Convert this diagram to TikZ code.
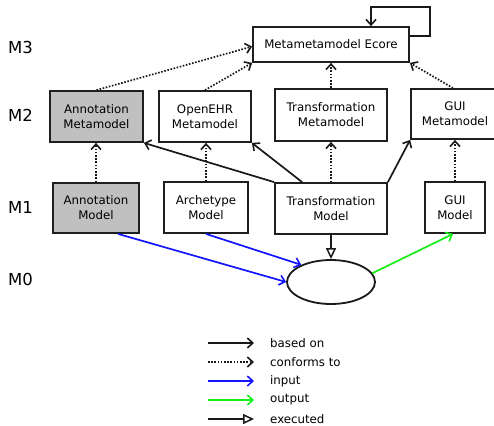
\documentclass[tikz,border=0pt]{standalone}
\usepackage{fontspec}
\setmainfont{DejaVu Sans}
\usetikzlibrary{arrows.meta,shapes.geometric}

\definecolor{boxgray}{RGB}{192,192,192}
\definecolor{inblue}{RGB}{20,20,255}
\definecolor{outgreen}{RGB}{20,240,20}

\tikzset{
  model/.style={draw=black!88, line width=1.8pt, fill=white, inner sep=0pt,
    align=center, font=\fontsize{11.8}{15}\selectfont},
  greymodel/.style={model, fill=boxgray},
  level/.style={font=\fontsize{16.5}{18}\selectfont, anchor=west, inner sep=0pt},
  legtext/.style={font=\fontsize{11.8}{14}\selectfont, anchor=west, inner sep=0pt},
  barb/.style={-{Straight Barb[length=5.5pt,width=10pt,line width=1.6pt]}},
  basedon/.style={barb, line width=1.7pt, black!90},
  conforms/.style={barb, line width=1.7pt, black!90, dash pattern=on 1.6pt off 1.6pt},
  inputarr/.style={barb, line width=1.7pt, inblue},
  outputarr/.style={barb, line width=1.7pt, outgreen},
  executedarr/.style={-{Triangle[open,length=11pt,width=10pt,line width=1.5pt]}, line width=1.7pt, black!90},
}

\begin{document}
\begin{tikzpicture}[x=1pt,y=-1pt]
  \useasboundingbox (0,0) rectangle (494,425);

  % level labels
  \node[level] (m3) at (8,47) {M3};
  \node[level] (m2) at (8,115) {M2};
  \node[level] (m1) at (8,207) {M1};
  \node[level] (m0) at (8,279) {M0};

  % M3
  \node[model, minimum width=156pt, minimum height=35pt] (ecore) at (331,44.5) {Metametamodel Ecore};

  % M2
  \node[greymodel, minimum width=93pt, minimum height=51pt] (annmm) at (96.5,116.5) {Annotation\\Metamodel};
  \node[model, minimum width=92pt, minimum height=51pt] (ehrmm) at (205,116.5) {OpenEHR\\Metamodel};
  \node[model, minimum width=112pt, minimum height=52pt] (trmm) at (331,115) {Transformation\\Metamodel};
  \node[model, minimum width=88pt, minimum height=50pt] (guimm) at (455,114) {GUI\\Metamodel};

  % M1
  \node[greymodel, minimum width=86pt, minimum height=50pt] (annm) at (96,208) {Annotation\\Model};
  \node[model, minimum width=84pt, minimum height=51pt] (arch) at (206,207.5) {Archetype\\Model};
  \node[model, minimum width=112pt, minimum height=51pt] (trm) at (331,208.5) {Transformation\\Model};
  \node[model, minimum width=60pt, minimum height=51pt] (guim) at (455,207.5) {GUI\\Model};

  % M0
  \node[ellipse, draw=black!90, line width=1.8pt, minimum width=88pt, minimum height=44pt, inner sep=0pt] (ell) at (331,282) {};

  % self loop on the metametamodel
  \coordinate (looptop) at (371,7);
  \draw[basedon] ([yshift=8.5pt]ecore.east) -- ++(20,0) |- (looptop) -- (looptop |- ecore.north);

  % metamodels conform to Ecore
  \draw[conforms] (annmm.north) -- ([yshift=-2pt]ecore.west);
  \draw[conforms] (ehrmm.north) -- (ecore.south west);
  \draw[conforms] (trmm.north) -- (ecore.south);
  \draw[conforms] ([xshift=-2pt]guimm.north) -- (ecore.south east);

  % models conform to their metamodels
  \draw[conforms] (annm.north) -- (annm.north |- annmm.south);
  \draw[conforms] (arch.north) -- (arch.north |- ehrmm.south);
  \draw[conforms] (trm.north) -- (trm.north |- trmm.south);
  \draw[conforms] (guim.north) -- (guim.north |- guimm.south);

  % transformation model is based on the metamodels
  \draw[basedon] (trm.north west) -- (annmm.south east);
  \draw[basedon] ([xshift=28pt]trm.north west) -- (ehrmm.south east);
  \draw[basedon] (trm.north east) -- (guimm.south west);

  % execution
  \draw[executedarr] (trm.south) -- (trm.south |- ell.north);
  \draw[inputarr] ([xshift=22pt]annm.south) -- (ell.west);
  \draw[inputarr] (arch.south) -- (ell.150);
  \draw[outputarr] (ell.12) -- ([xshift=-2pt]guim.south);

  % legend
  \foreach \i/\yy in {1/343,2/362,3/381,4/400,5/419} {
    \coordinate (la\i) at (208,\yy);
    \coordinate (lb\i) at (254,\yy);
  }
  \draw[basedon] (la1) -- (lb1);
  \draw[conforms] (la2) -- (lb2);
  \draw[inputarr] (la3) -- (lb3);
  \draw[outputarr] (la4) -- (lb4);
  \draw[executedarr] (la5) -- (lb5);
  \node[legtext] (t1) at (270,343) {based on};
  \node[legtext] (t2) at (270,362) {conforms to};
  \node[legtext] (t3) at (270,381) {input};
  \node[legtext] (t4) at (270,400) {output};
  \node[legtext] (t5) at (270,419) {executed};
\end{tikzpicture}
\end{document}
